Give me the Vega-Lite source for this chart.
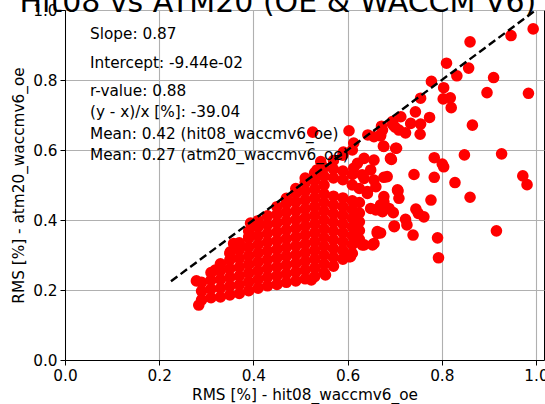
{
  "$schema": "https://vega.github.io/schema/vega-lite/v6.json",
  "autosize": {"type": "none"},
  "width": 479,
  "height": 350,
  "padding": {"left": 65, "top": 10, "right": 1, "bottom": 44},
  "background": "white",
  "config": {
    "font": "DejaVu Sans",
    "view": {"stroke": "black", "strokeWidth": 1},
    "axis": {
      "labelFont": "DejaVu Sans", "labelFontSize": 15.3, "labelColor": "black",
      "titleFont": "DejaVu Sans", "titleFontSize": 15.3, "titleFontWeight": "normal", "titleColor": "black",
      "tickColor": "black", "tickSize": 5, "domainColor": "black",
      "gridColor": "#b0b0b0", "gridWidth": 1.1
    }
  },
  "datasets": {
    "pts": [
      {"x":0.29,"y":0.172},{"x":0.29,"y":0.197},{"x":0.29,"y":0.222},
      {"x":0.31,"y":0.178},{"x":0.31,"y":0.203},{"x":0.31,"y":0.228},{"x":0.31,"y":0.25},
      {"x":0.33,"y":0.18},{"x":0.33,"y":0.205},{"x":0.33,"y":0.23},{"x":0.33,"y":0.255},{"x":0.33,"y":0.275},
      {"x":0.35,"y":0.186},{"x":0.35,"y":0.211},{"x":0.35,"y":0.236},{"x":0.35,"y":0.261},{"x":0.35,"y":0.286},{"x":0.35,"y":0.305},
      {"x":0.37,"y":0.19},{"x":0.37,"y":0.215},{"x":0.37,"y":0.24},{"x":0.37,"y":0.265},{"x":0.37,"y":0.29},{"x":0.37,"y":0.315},{"x":0.37,"y":0.335},
      {"x":0.39,"y":0.198},{"x":0.39,"y":0.223},{"x":0.39,"y":0.248},{"x":0.39,"y":0.273},{"x":0.39,"y":0.298},{"x":0.39,"y":0.323},{"x":0.39,"y":0.348},{"x":0.39,"y":0.368},
      {"x":0.41,"y":0.205},{"x":0.41,"y":0.23},{"x":0.41,"y":0.255},{"x":0.41,"y":0.28},{"x":0.41,"y":0.305},{"x":0.41,"y":0.33},{"x":0.41,"y":0.355},{"x":0.41,"y":0.38},{"x":0.41,"y":0.398},
      {"x":0.43,"y":0.212},{"x":0.43,"y":0.237},{"x":0.43,"y":0.262},{"x":0.43,"y":0.287},{"x":0.43,"y":0.312},{"x":0.43,"y":0.337},{"x":0.43,"y":0.362},{"x":0.43,"y":0.387},{"x":0.43,"y":0.412},
      {"x":0.45,"y":0.216},{"x":0.45,"y":0.241},{"x":0.45,"y":0.266},{"x":0.45,"y":0.291},{"x":0.45,"y":0.316},{"x":0.45,"y":0.341},{"x":0.45,"y":0.366},{"x":0.45,"y":0.391},{"x":0.45,"y":0.416},{"x":0.45,"y":0.438},
      {"x":0.47,"y":0.222},{"x":0.47,"y":0.247},{"x":0.47,"y":0.272},{"x":0.47,"y":0.297},{"x":0.47,"y":0.322},{"x":0.47,"y":0.347},{"x":0.47,"y":0.372},{"x":0.47,"y":0.397},{"x":0.47,"y":0.422},{"x":0.47,"y":0.447},{"x":0.47,"y":0.462},
      {"x":0.49,"y":0.226},{"x":0.49,"y":0.251},{"x":0.49,"y":0.276},{"x":0.49,"y":0.301},{"x":0.49,"y":0.326},{"x":0.49,"y":0.351},{"x":0.49,"y":0.376},{"x":0.49,"y":0.401},{"x":0.49,"y":0.426},{"x":0.49,"y":0.451},{"x":0.49,"y":0.476},{"x":0.49,"y":0.49},
      {"x":0.51,"y":0.232},{"x":0.51,"y":0.257},{"x":0.51,"y":0.282},{"x":0.51,"y":0.307},{"x":0.51,"y":0.332},{"x":0.51,"y":0.357},{"x":0.51,"y":0.382},{"x":0.51,"y":0.407},{"x":0.51,"y":0.432},{"x":0.51,"y":0.457},{"x":0.51,"y":0.482},{"x":0.51,"y":0.507},{"x":0.51,"y":0.52},
      {"x":0.53,"y":0.238},{"x":0.53,"y":0.263},{"x":0.53,"y":0.288},{"x":0.53,"y":0.313},{"x":0.53,"y":0.338},{"x":0.53,"y":0.363},{"x":0.53,"y":0.388},{"x":0.53,"y":0.413},{"x":0.53,"y":0.438},{"x":0.53,"y":0.463},{"x":0.53,"y":0.488},{"x":0.53,"y":0.513},{"x":0.53,"y":0.535},
      {"x":0.55,"y":0.25},{"x":0.55,"y":0.275},{"x":0.55,"y":0.3},{"x":0.55,"y":0.325},{"x":0.55,"y":0.35},{"x":0.55,"y":0.375},{"x":0.55,"y":0.4},{"x":0.55,"y":0.425},{"x":0.55,"y":0.45},{"x":0.55,"y":0.475},{"x":0.55,"y":0.5},{"x":0.55,"y":0.525},{"x":0.55,"y":0.55},
      {"x":0.57,"y":0.268},{"x":0.57,"y":0.293},{"x":0.57,"y":0.318},{"x":0.57,"y":0.343},{"x":0.57,"y":0.368},{"x":0.57,"y":0.393},{"x":0.57,"y":0.418},{"x":0.57,"y":0.443},{"x":0.57,"y":0.468},{"x":0.57,"y":0.52},{"x":0.57,"y":0.545},{"x":0.57,"y":0.57},
      {"x":0.59,"y":0.288},{"x":0.59,"y":0.313},{"x":0.59,"y":0.338},{"x":0.59,"y":0.363},{"x":0.59,"y":0.388},{"x":0.59,"y":0.413},{"x":0.59,"y":0.438},{"x":0.59,"y":0.463},{"x":0.59,"y":0.515},{"x":0.59,"y":0.54},{"x":0.59,"y":0.585},
      {"x":0.61,"y":0.305},{"x":0.61,"y":0.33},{"x":0.61,"y":0.355},{"x":0.61,"y":0.38},{"x":0.61,"y":0.405},{"x":0.61,"y":0.43},{"x":0.61,"y":0.455},{"x":0.61,"y":0.5},{"x":0.61,"y":0.53},{"x":0.61,"y":0.6},
      {"x":0.625,"y":0.345},{"x":0.625,"y":0.37},{"x":0.625,"y":0.395},{"x":0.625,"y":0.42},{"x":0.625,"y":0.45},{"x":0.625,"y":0.49},
      {"x":0.994,"y":0.946},{"x":0.947,"y":0.927},{"x":0.86,"y":0.909},{"x":0.81,"y":0.848},{"x":0.857,"y":0.834},{"x":0.832,"y":0.812},{"x":0.91,"y":0.807},{"x":0.778,"y":0.796},{"x":0.804,"y":0.778},{"x":0.896,"y":0.764},{"x":0.984,"y":0.762},{"x":0.803,"y":0.746},{"x":0.818,"y":0.749},{"x":0.755,"y":0.748},{"x":0.82,"y":0.721},{"x":0.744,"y":0.709},{"x":0.774,"y":0.693},{"x":0.865,"y":0.671},{"x":0.695,"y":0.676},{"x":0.701,"y":0.665},{"x":0.734,"y":0.676},{"x":0.755,"y":0.674},{"x":0.723,"y":0.649},{"x":0.754,"y":0.645},{"x":0.674,"y":0.657},{"x":0.67,"y":0.643},{"x":0.676,"y":0.611},{"x":0.704,"y":0.605},{"x":0.693,"y":0.573},{"x":0.784,"y":0.578},{"x":0.801,"y":0.56},{"x":0.804,"y":0.552},{"x":0.848,"y":0.586},{"x":0.927,"y":0.589},{"x":0.741,"y":0.53},{"x":0.784,"y":0.522},{"x":0.677,"y":0.522},{"x":0.828,"y":0.507},{"x":0.972,"y":0.526},{"x":0.981,"y":0.501},{"x":0.707,"y":0.483},{"x":0.777,"y":0.457},{"x":0.86,"y":0.465},{"x":0.677,"y":0.452},{"x":0.745,"y":0.431},{"x":0.75,"y":0.419},{"x":0.697,"y":0.421},{"x":0.723,"y":0.402},{"x":0.726,"y":0.386},{"x":0.699,"y":0.383},{"x":0.739,"y":0.357},{"x":0.791,"y":0.349},{"x":0.916,"y":0.369},{"x":0.793,"y":0.292},{"x":0.67,"y":0.363},{"x":0.674,"y":0.424},
      {"x":0.526,"y":0.651},{"x":0.603,"y":0.655},{"x":0.713,"y":0.695},{"x":0.697,"y":0.671},{"x":0.672,"y":0.668},{"x":0.656,"y":0.638},{"x":0.695,"y":0.681},{"x":0.709,"y":0.657},{"x":0.677,"y":0.61},{"x":0.702,"y":0.605},{"x":0.691,"y":0.576},{"x":0.635,"y":0.576},{"x":0.656,"y":0.571},{"x":0.649,"y":0.543},{"x":0.684,"y":0.524},{"x":0.631,"y":0.529},{"x":0.706,"y":0.486},{"x":0.613,"y":0.548},{"x":0.642,"y":0.481},{"x":0.66,"y":0.495},{"x":0.642,"y":0.476},{"x":0.635,"y":0.519},{"x":0.656,"y":0.514},{"x":0.621,"y":0.562},{"x":0.677,"y":0.467},{"x":0.66,"y":0.429},{"x":0.762,"y":0.409},{"x":0.699,"y":0.381},{"x":0.663,"y":0.367},{"x":0.656,"y":0.333},{"x":0.635,"y":0.329},{"x":0.606,"y":0.295},{"x":0.688,"y":0.433},{"x":0.649,"y":0.433},{"x":0.67,"y":0.443},{"x":0.709,"y":0.462},{"x":0.553,"y":0.243},{"x":0.523,"y":0.229},{"x":0.603,"y":0.295},{"x":0.631,"y":0.329},{"x":0.653,"y":0.329},{"x":0.663,"y":0.362},{"x":0.543,"y":0.567},{"x":0.535,"y":0.543},{"x":0.394,"y":0.391},{"x":0.358,"y":0.333},{"x":0.351,"y":0.309},{"x":0.319,"y":0.257},{"x":0.279,"y":0.226},{"x":0.284,"y":0.157},{"x":0.39,"y":0.352},{"x":0.67,"y":0.64},{"x":0.643,"y":0.643},{"x":0.613,"y":0.62},{"x":0.591,"y":0.594}
    ],
    "diag": [{"x":0.225,"y":0.225},{"x":1.0,"y":1.0}],
    "notes": [
      {"x":0.053,"y":0.931,"label":"Slope: 0.87"},
      {"x":0.053,"y":0.849,"label":"Intercept: -9.44e-02"},
      {"x":0.053,"y":0.769,"label":"r-value: 0.88"},
      {"x":0.053,"y":0.708,"label":"(y - x)/x [%]: -39.04"},
      {"x":0.053,"y":0.645,"label":"Mean: 0.42 (hit08_waccmv6_oe)"},
      {"x":0.053,"y":0.586,"label":"Mean: 0.27 (atm20_waccmv6_oe)"}
    ],
    "heading": [{"x":0.452,"y":0.994,"label":"Hit08 vs ATM20 (OE & WACCM V6)"}]
  },
  "layer": [
    {
      "data": {"name": "pts"},
      "mark": {"type": "circle", "color": "#ff0000", "opacity": 1, "size": 135},
      "encoding": {
        "x": {"field": "x", "type": "quantitative", "scale": {"domain": [0, 1.017], "nice": false, "zero": false},
              "axis": {"values": [0, 0.2, 0.4, 0.6, 0.8, 1.0], "format": ".1f", "title": "RMS [%] - hit08_waccmv6_oe", "labelPadding": 3, "titlePadding": 4, "labelFlush": false}},
        "y": {"field": "y", "type": "quantitative", "scale": {"domain": [0, 1], "nice": false, "zero": false},
              "axis": {"values": [0, 0.2, 0.4, 0.6, 0.8, 1.0], "format": ".1f", "title": "RMS [%] - atm20_waccmv6_oe", "labelPadding": 3, "titlePadding": 6, "labelFlush": false}}
      }
    },
    {
      "data": {"name": "diag"},
      "mark": {"type": "line", "color": "black", "strokeWidth": 2.4, "strokeDash": [8, 4]},
      "encoding": {
        "x": {"field": "x", "type": "quantitative"},
        "y": {"field": "y", "type": "quantitative"}
      }
    },
    {
      "data": {"name": "notes"},
      "mark": {"type": "text", "align": "left", "baseline": "middle", "font": "DejaVu Sans", "fontSize": 15.3, "color": "black"},
      "encoding": {
        "x": {"field": "x", "type": "quantitative"},
        "y": {"field": "y", "type": "quantitative"},
        "text": {"field": "label"}
      }
    },
    {
      "data": {"name": "heading"},
      "mark": {"type": "text", "align": "center", "baseline": "alphabetic", "font": "DejaVu Sans", "fontSize": 30, "color": "black"},
      "encoding": {
        "x": {"field": "x", "type": "quantitative"},
        "y": {"field": "y", "type": "quantitative"},
        "text": {"field": "label"}
      }
    }
  ]
}
